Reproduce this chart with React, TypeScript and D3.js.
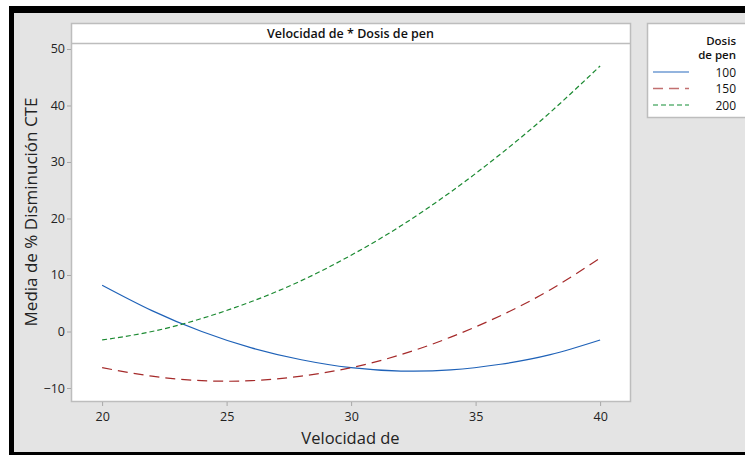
import React, { useRef, useEffect } from "react";
import * as d3 from "d3";

// velocidad values (x)
const velocidad = [20, 22, 24, 26, 28, 30, 32, 34, 36, 38, 40];
// media de % disminución CTE, one array per dosis de pen
const dosis100 = [8.2, 3.7, 0.0, -2.9, -5.0, -6.4, -7.0, -6.8, -5.8, -4.1, -1.5];
const dosis150 = [-6.4, -7.9, -8.7, -8.7, -7.9, -6.4, -4.1, -1.0, 2.8, 7.4, 13.0];
const dosis200 = [-1.5, 0.0, 2.3, 5.3, 9.0, 13.5, 18.7, 24.7, 31.4, 38.8, 47.0];

const seriesNames = ["100", "150", "200"];
const xTicks = [20, 25, 30, 35, 40];
const yTicks = [-10, 0, 10, 20, 30, 40, 50];

const FONT = "'Open Sans', 'Noto Sans', sans-serif";

const App = () => {
    const svgRef = useRef<SVGSVGElement>(null);

    useEffect(() => {
        const svg = d3.select(svgRef.current);
        svg.selectAll("*").remove();

        const width = 745;
        const height = 455;
        const frame = { left: 71, right: 630, top: 23, titleBottom: 43, bottom: 401 };

        // backgrounds and border
        svg.append("rect").attr("width", width).attr("height", height).attr("fill", "#fff");
        svg.append("rect").attr("x", 9).attr("y", 6).attr("width", width).attr("height", height).attr("fill", "#000");
        svg.append("rect").attr("x", 14).attr("y", 13).attr("width", width).attr("height", 439).attr("fill", "#e4e4e4");

        const xScale = d3.scaleLinear().domain([18.75, 41.2]).range([frame.left, frame.right]);
        const yScale = d3.scaleLinear().domain([-12.3, 51.06]).range([frame.bottom, frame.titleBottom]);

        // plot frame + title band
        svg.append("rect")
            .attr("x", frame.left + 0.5).attr("y", frame.top + 0.5)
            .attr("width", frame.right - frame.left).attr("height", frame.bottom - frame.top)
            .attr("fill", "#fff").attr("stroke", "#bdbdbd").attr("stroke-width", 1.5);
        svg.append("line")
            .attr("x1", frame.left).attr("x2", frame.right)
            .attr("y1", frame.titleBottom + 0.5).attr("y2", frame.titleBottom + 0.5)
            .attr("stroke", "#bdbdbd").attr("stroke-width", 1.5);
        svg.append("text")
            .attr("x", (frame.left + frame.right) / 2).attr("y", 38)
            .attr("text-anchor", "middle")
            .attr("font-family", FONT).attr("font-size", 12.5).attr("font-weight", 600)
            .attr("fill", "#111")
            .text("Velocidad de * Dosis de pen");

        // x axis
        const xAxis = svg.append("g")
            .attr("transform", `translate(0, ${frame.bottom + 1})`)
            .call(d3.axisBottom(xScale).tickValues(xTicks).tickSize(4).tickSizeOuter(0));
        xAxis.select(".domain").remove();
        xAxis.selectAll("line").attr("stroke", "#a8a8a8");
        xAxis.selectAll("text")
            .attr("font-family", FONT).attr("font-size", 12.5).attr("fill", "#222").attr("dy", "0.95em");

        // y axis
        const yAxis = svg.append("g")
            .attr("transform", `translate(${frame.left}, 0)`)
            .call(d3.axisLeft(yScale).tickValues(yTicks).tickSize(4).tickSizeOuter(0));
        yAxis.select(".domain").remove();
        yAxis.selectAll("line").attr("stroke", "#a8a8a8");
        yAxis.selectAll("text")
            .attr("font-family", FONT).attr("font-size", 12.5).attr("fill", "#222").attr("x", -6);

        // axis labels
        svg.append("text")
            .attr("x", (frame.left + frame.right) / 2).attr("y", 444)
            .attr("text-anchor", "middle")
            .attr("font-family", FONT).attr("font-size", 16.5).attr("fill", "#222")
            .text("Velocidad de");
        svg.append("text")
            .attr("transform", `translate(37, ${(frame.top + frame.bottom) / 2}) rotate(-90)`)
            .attr("text-anchor", "middle")
            .attr("font-family", FONT).attr("font-size", 17).attr("fill", "#222")
            .text("Media de % Disminución CTE");

        // lines
        const styles = [
            { color: "#1f62b8", dash: null, legend: "#6f9bd3" },
            { color: "#a52a2a", dash: "10,6", legend: "#c27070" },
            { color: "#1c8a32", dash: "5,3", legend: "#62b478" },
        ];
        const allSeries = [dosis100, dosis150, dosis200];
        const line = d3.line<number>()
            .x((_, i) => xScale(velocidad[i]))
            .y(d => yScale(d))
            .curve(d3.curveNatural);

        allSeries.forEach((vals, i) => {
            svg.append("path")
                .datum(vals)
                .attr("d", line)
                .attr("fill", "none")
                .attr("stroke", styles[i].color)
                .attr("stroke-width", 1.2)
                .attr("stroke-dasharray", styles[i].dash);
        });

        // legend
        svg.append("rect")
            .attr("x", 647.5).attr("y", 23.5).attr("width", 120).attr("height", 94)
            .attr("fill", "#fff").attr("stroke", "#bdbdbd").attr("stroke-width", 1.5);
        ["Dosis", "de pen"].forEach((t, i) => {
            svg.append("text")
                .attr("x", 736).attr("y", 45 + i * 14)
                .attr("text-anchor", "end")
                .attr("font-family", FONT).attr("font-size", 11.5).attr("font-weight", 600)
                .attr("fill", "#111")
                .text(t);
        });
        seriesNames.forEach((name, i) => {
            const y = 72 + i * 16.5;
            svg.append("line")
                .attr("x1", 653).attr("x2", 689).attr("y1", y).attr("y2", y)
                .attr("stroke", styles[i].legend).attr("stroke-width", 1.5)
                .attr("stroke-dasharray", styles[i].dash);
            svg.append("text")
                .attr("x", 736).attr("y", y + 4.5)
                .attr("text-anchor", "end")
                .attr("font-family", FONT).attr("font-size", 12)
                .attr("fill", "#111")
                .text(name);
        });
    }, []);

    return (
        <svg
            ref={svgRef}
            width={745}
            height={455}
            style={{ position: "absolute", left: 0, top: 0, display: "block" }}
        ></svg>
    );
};

export default App;
